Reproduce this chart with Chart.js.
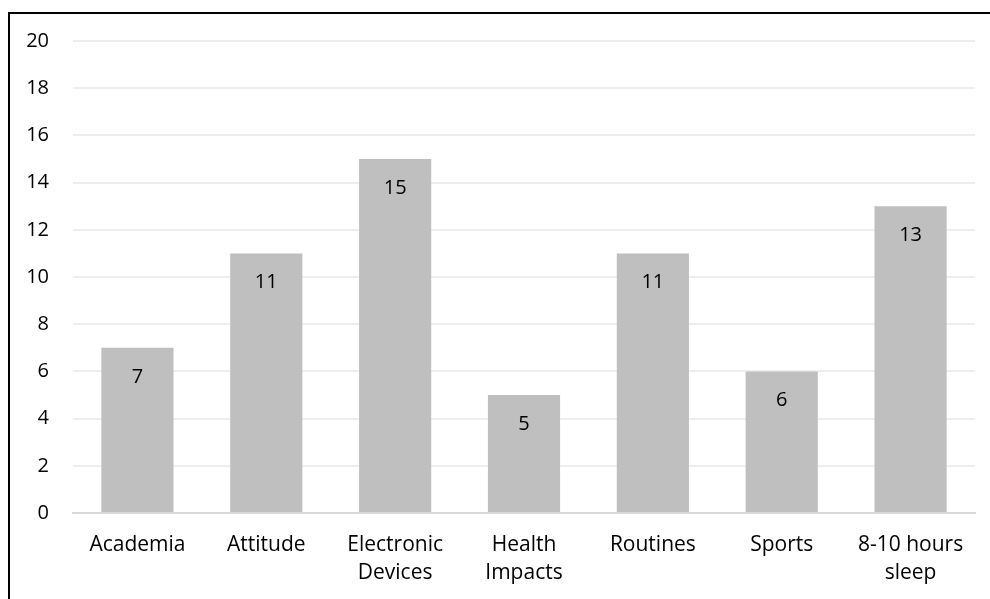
<!DOCTYPE html>
<html>
<head>
<meta charset="utf-8">
<script src="https://cdn.jsdelivr.net/npm/chart.js@4/dist/chart.umd.min.js"></script>
<style>
  html, body { margin: 0; padding: 0; background: #ffffff; }
  #wrap { position: relative; width: 990px; height: 599px; }
  #frame { position: absolute; left: 8px; top: 12px; right: 0; bottom: 0;
           border-left: 2px solid #000; border-top: 2px solid #000; pointer-events: none; }
  canvas { position: absolute; left: 0; top: 0; }
</style>
</head>
<body>
<div id="wrap">
  <canvas id="chart" width="990" height="599"></canvas>
  <div id="frame"></div>
</div>
<script>
const categories = ["Academia", "Attitude", ["Electronic", "Devices"], ["Health", "Impacts"], "Routines", "Sports", ["8-10 hours", "sleep"]];
const counts = [7, 11, 15, 5, 11, 6, 13];
const yTicks = [0, 2, 4, 6, 8, 10, 12, 14, 16, 18, 20];

const FONT = "'Open Sans', sans-serif";

// Value labels printed inside each bar, just below its top edge
const barValueLabels = {
  id: 'barValueLabels',
  afterDatasetsDraw(chart) {
    const ctx = chart.ctx;
    const meta = chart.getDatasetMeta(0);
    ctx.save();
    ctx.font = "20px " + FONT;
    ctx.fillStyle = "#000";
    ctx.textAlign = "center";
    ctx.textBaseline = "middle";
    meta.data.forEach((bar, i) => {
      ctx.fillText(String(counts[i]), bar.x, bar.y + 29);
    });
    ctx.restore();
  }
};

new Chart(document.getElementById('chart'), {
  type: 'bar',
  data: {
    labels: categories,
    datasets: [{
      data: counts,
      backgroundColor: '#bfbfbf',
      borderWidth: 0,
      categoryPercentage: 1,
      barPercentage: 0.56
    }]
  },
  options: {
    responsive: false,
    animation: false,
    layout: { padding: { top: 41, right: 15, left: 0, bottom: 0 } },
    plugins: { legend: { display: false }, tooltip: { enabled: false } },
    scales: {
      x: {
        grid: { display: false, drawTicks: false },
        border: { display: true, color: '#d9d9d9', width: 2 },
        ticks: {
          color: '#000',
          font: { family: FONT, size: 21, lineHeight: 1.34 },
          padding: 18,
          maxRotation: 0,
          autoSkip: false
        },
        afterFit(scale) { scale.height = 86; }
      },
      y: {
        min: 0,
        max: 20,
        afterBuildTicks(scale) { scale.ticks = yTicks.map(v => ({ value: v })); },
        grid: { color: '#eeeeee', lineWidth: 2, drawTicks: false },
        border: { display: false },
        ticks: {
          color: '#000',
          font: { family: FONT, size: 20 },
          padding: 24
        },
        afterFit(scale) { scale.width = 73; }
      }
    }
  },
  plugins: [barValueLabels]
});
</script>
</body>
</html>
